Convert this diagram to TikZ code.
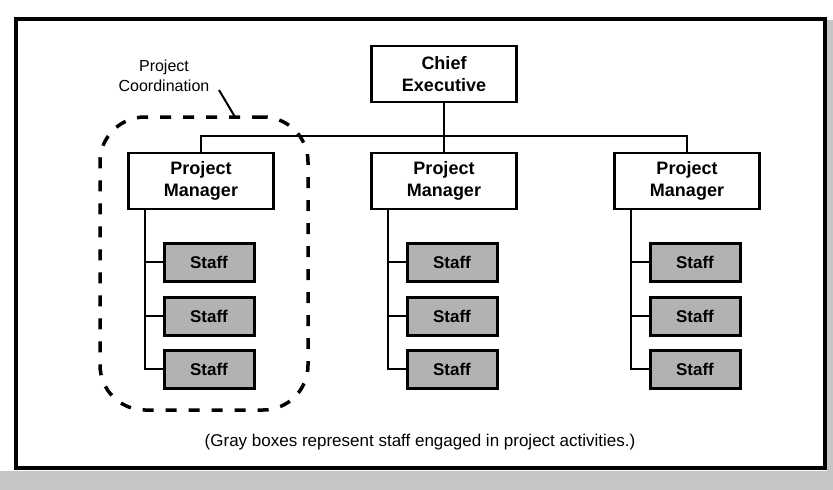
\documentclass[tikz,border=0pt]{standalone}
\usepackage{fontspec}
\setmainfont{Liberation Sans}
\begin{document}
\begin{tikzpicture}[x=1pt,y=-1pt,
  box/.style={draw,line width=2.5pt,minimum width=145pt,minimum height=56pt,align=center,inner sep=0pt,font=\fontsize{18}{22}\selectfont\bfseries},
  staffbox/.style={draw,line width=3pt,fill=gray!60,minimum width=90pt,minimum height=38pt,inner sep=0pt,font=\fontsize{17}{20}\selectfont\bfseries},
  conn/.style={line width=2pt},
  grpbox/.style={draw,line width=3.5pt,dash pattern=on 11pt off 12pt,rounded corners=45pt,minimum width=208pt,minimum height=293pt,inner sep=0pt},
  frame/.style={line width=4.5pt}]
\useasboundingbox (0,0) rectangle (833,490);
% scan shadow
\fill[gray!45] (0,471) rectangle (833,490);
\fill[gray!45] (827,20) rectangle (833,490);
\draw[frame] (16,19) rectangle (825,468);
% group outline
\node[grpbox] (grp) at (204,263.5) {};
% boxes
\node[box] (ce) at (444,74) {Chief\\Executive};
\node[box] (pm1) at (201,181) {Project\\Manager};
\node[box] (pm2) at (444,181) {Project\\Manager};
\node[box] (pm3) at (687,181) {Project\\Manager};
\coordinate (bar) at (444,136);
\draw[conn] (ce.south) -- (pm2.north);
\draw[conn] (pm1.north) -- (pm1.north |- bar) -- (pm3.north |- bar) -- (pm3.north);
% staff
\foreach \g/\cx in {1/201,2/444,3/687}{
  \foreach \s/\cy in {1/262,2/316,3/369}{
    \node[staffbox] (s\g\s) at (\cx+8,\cy) {Staff};
  }
  \path (pm\g.south) ++(-56,0) coordinate (sp\g);
  \draw[conn] (sp\g) |- (s\g3.west);
  \draw[conn] (sp\g |- s\g1.west) -- (s\g1.west);
  \draw[conn] (sp\g |- s\g2.west) -- (s\g2.west);
}
% label
\node[font=\fontsize{16}{20}\selectfont,align=center] (lbl) at (164,76) {Project\\Coordination};
\coordinate (l1) at (219,90);
\coordinate (l2) at (235,117);
\draw[conn] (l1) -- (l2);
% caption
\node[font=\fontsize{17}{20}\selectfont] (cap) at (420,442) {(Gray boxes represent staff engaged in project activities.)};
\end{tikzpicture}
\end{document}
